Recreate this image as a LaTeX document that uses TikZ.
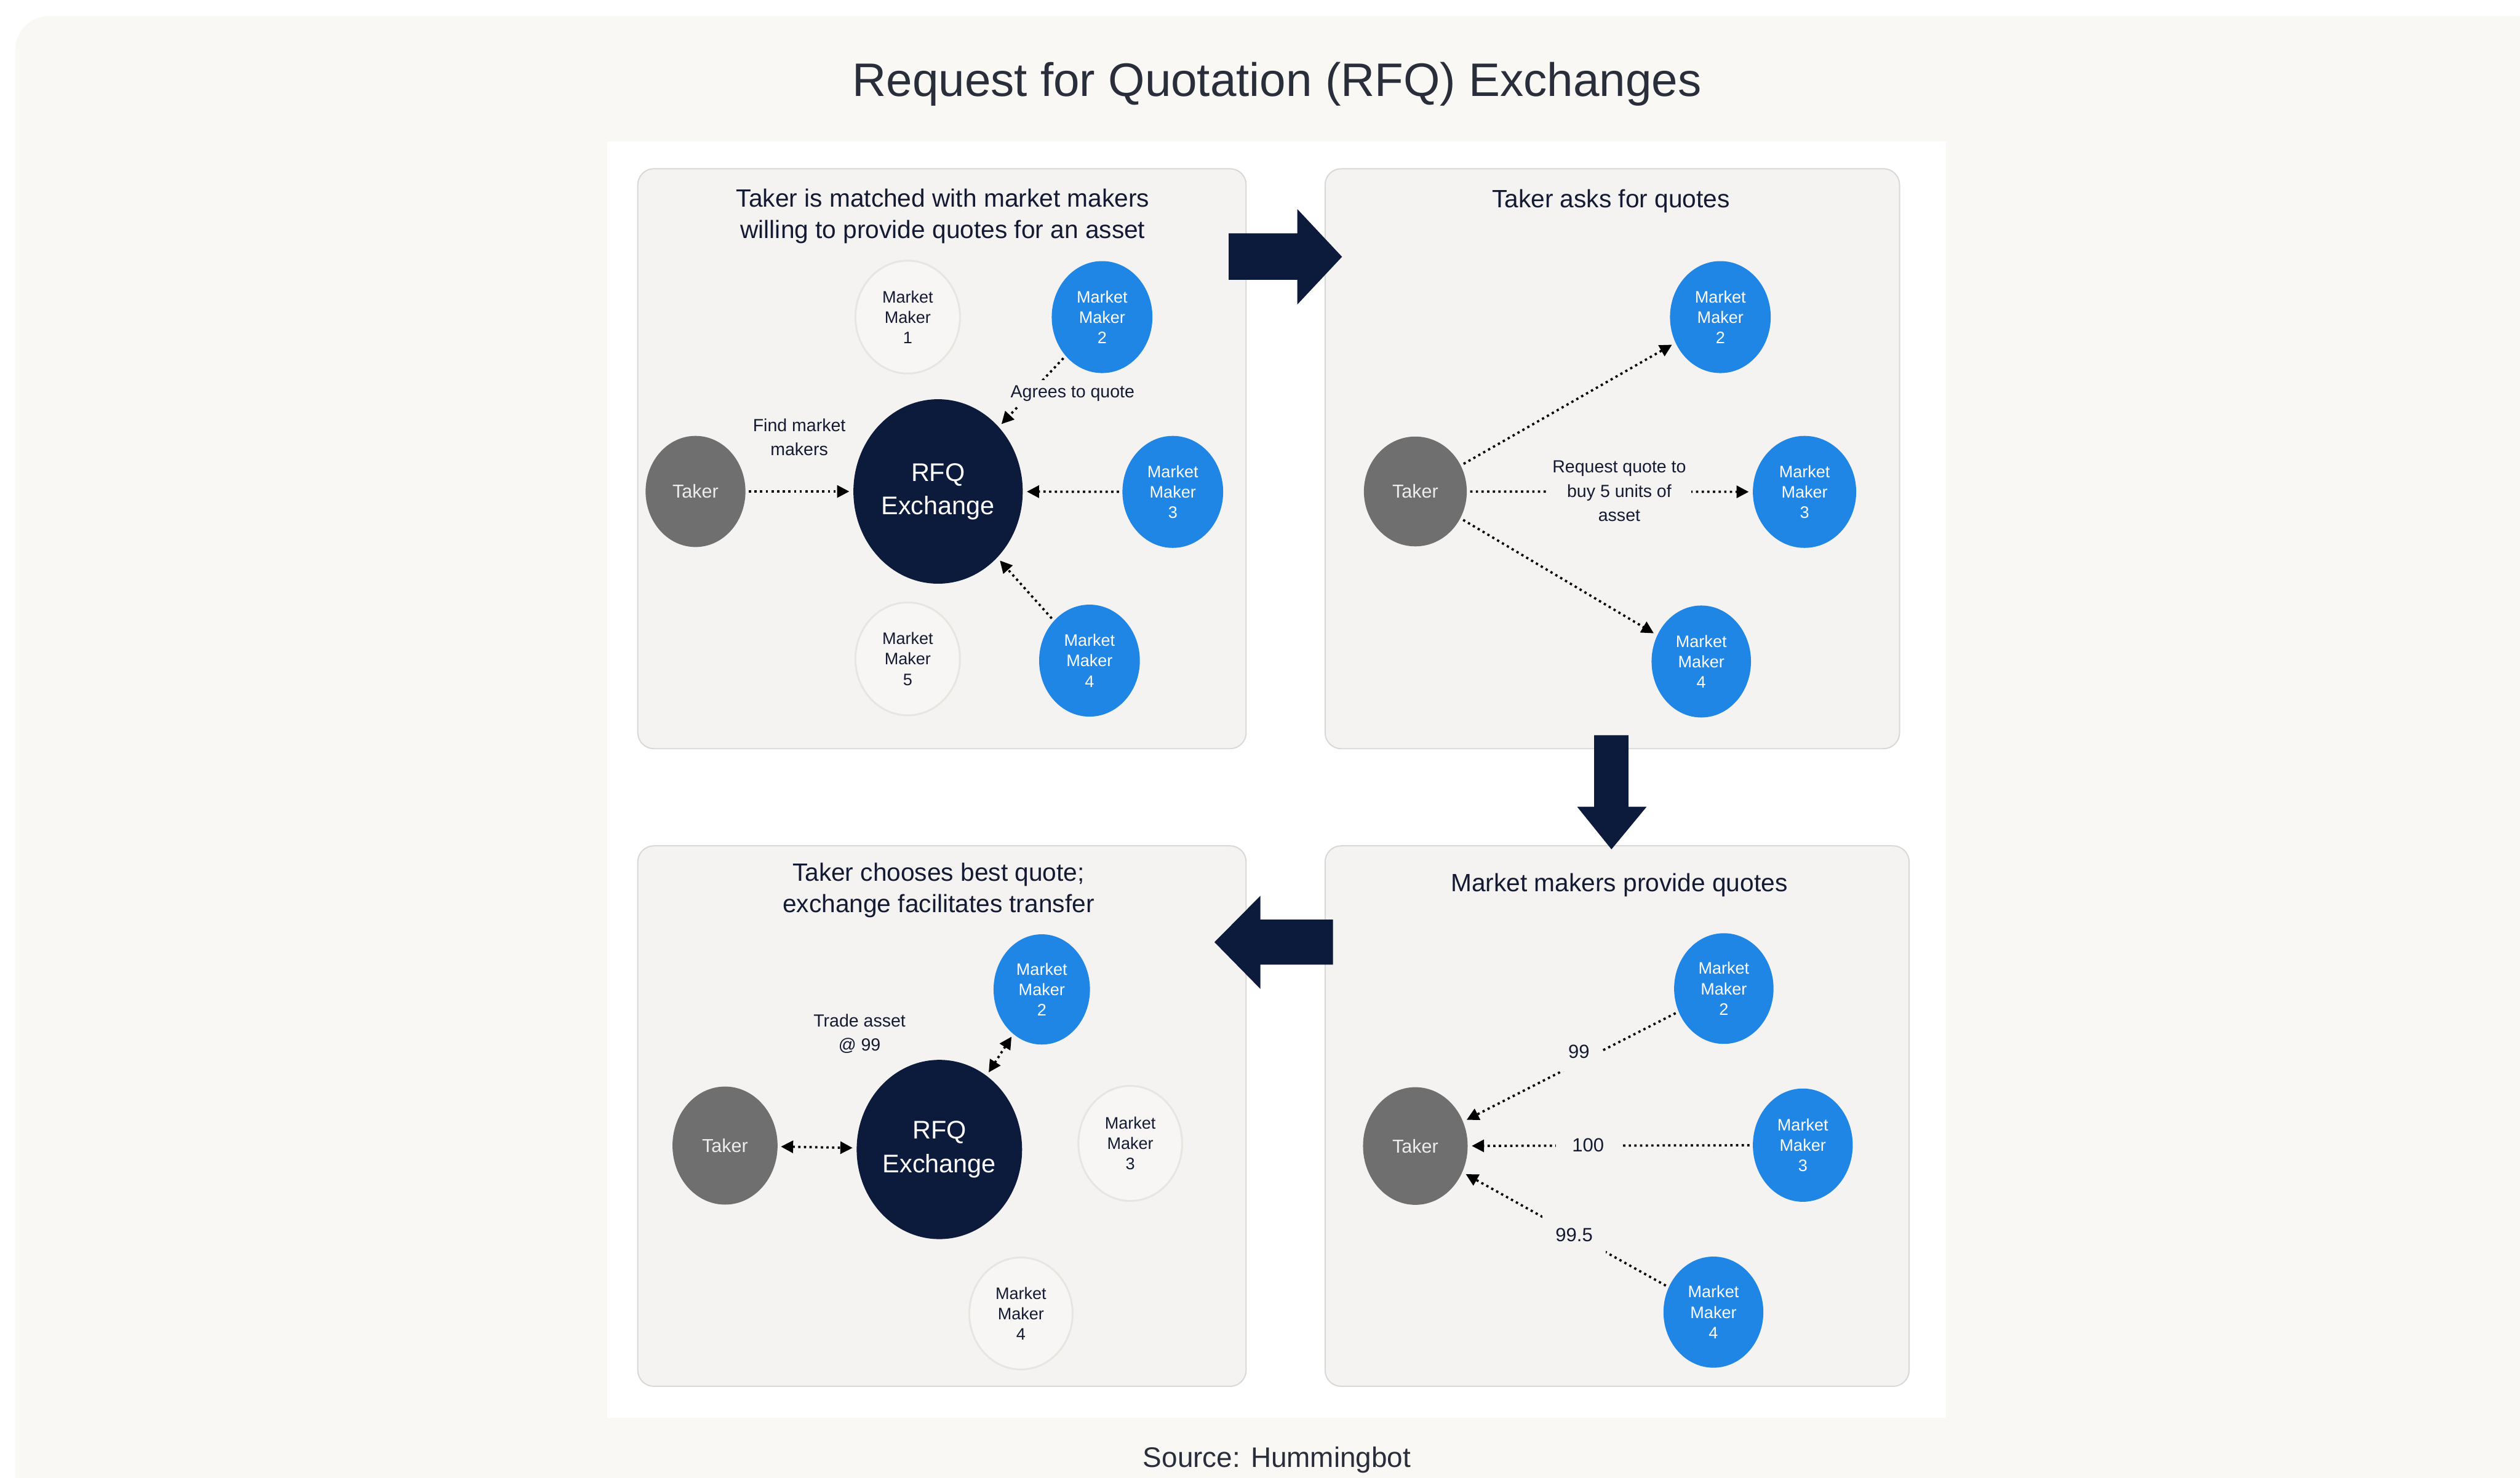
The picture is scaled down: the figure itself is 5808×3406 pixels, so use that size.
\documentclass[tikz,border=0pt]{standalone}
\usepackage{fontspec}
\setmainfont{Liberation Sans}
\usepackage{xcolor}
\definecolor{frameFill}{HTML}{F9F8F5}
\definecolor{panelFill}{HTML}{F4F3F1}
\definecolor{panelRule}{HTML}{D9D8D6}
\definecolor{colorNavy}{HTML}{0C1A3C}
\definecolor{colorMaker}{HTML}{1F86E6}
\definecolor{colorTaker}{HTML}{6F6F6F}
\definecolor{colorIdle}{HTML}{F7F6F4}
\definecolor{colorIdleRing}{HTML}{E8E5E0}
\definecolor{colorInk}{HTML}{141A32}
\definecolor{colorHead}{HTML}{2A2E3B}
\usepackage{tikz}
\usetikzlibrary{arrows.meta, shapes.geometric}

\newcommand{\titleFont}{\fontsize{30.8pt}{36pt}\selectfont}
\newcommand{\sourceFont}{\fontsize{18.5pt}{22pt}\selectfont}
\newcommand{\headFont}{\fontsize{16.4pt}{20.5pt}\selectfont}
\newcommand{\mmFont}{\fontsize{10.9pt}{13.4pt}\selectfont}
\newcommand{\takerFont}{\fontsize{12.3pt}{14pt}\selectfont}
\newcommand{\rfqFont}{\fontsize{16.7pt}{21.9pt}\selectfont}
\newcommand{\tagFont}{\fontsize{11.5pt}{16pt}\selectfont}
\newcommand{\numFont}{\fontsize{12.5pt}{15pt}\selectfont}

\tikzset{
  panel/.style={draw=panelRule, fill=panelFill, line width=0.8pt, rounded corners=0.37cm},
  bigarrow/.style={fill=colorNavy},
  maker/.style={ellipse, fill=colorMaker, text=white, inner sep=0pt, align=center,
    minimum width=2.32cm, minimum height=2.58cm, font=\mmFont},
  idle/.style={maker, fill=colorIdle, draw=colorIdleRing, line width=1.2pt, text=colorInk,
    minimum width=2.41cm, minimum height=2.6cm},
  taker/.style={ellipse, fill=colorTaker, text=white!93!black, inner sep=0pt,
    minimum width=2.3cm, minimum height=2.56cm, font=\takerFont},
  exch/.style={ellipse, fill=colorNavy, text=white, inner sep=0pt, align=center,
    minimum width=3.9cm, minimum height=4.25cm, font=\rfqFont},
  quote/.style={line width=1.5pt, dash pattern=on 1.5pt off 2.2pt, shorten >=2.5pt, shorten <=2pt},
  heading/.style={text=colorInk, align=center, font=\headFont},
  tag/.style={fill=panelFill, text=colorInk, align=center, inner sep=0.12cm, font=\tagFont},
  num/.style={tag, inner sep=0.3cm, font=\numFont},
}

\begin{document}
\begin{tikzpicture}[x=0.01cm, y=-0.01cm, >={Triangle[length=8pt, width=8pt]}]
\useasboundingbox (0,0) rectangle (5808,3406);
\fill[white] (0,0) rectangle (5808,3406);
\fill[frameFill, rounded corners=0.78cm] (35,37) rectangle (5880,3520);
\fill[white] (1400,326) rectangle (4485,3268);

% the four panels
\draw[panel] (1470,389) rectangle (2872,1726);
\draw[panel] (3054,389) rectangle (4378,1726);
\draw[panel] (1470,1950) rectangle (2872,3196);
\draw[panel] (3054,1950) rectangle (4400,3196);

% step arrows
\fill[bigarrow] (2832,538) -- (2990,538) -- (2990,482) -- (3093,592) -- (2990,702) -- (2990,645) -- (2832,645) -- cycle;
\fill[bigarrow] (3674,1695) -- (3753,1695) -- (3753,1860) -- (3795,1860) -- (3714,1958) -- (3635,1860) -- (3674,1860) -- cycle;
\fill[bigarrow] (3072,2120) -- (2905,2120) -- (2905,2065) -- (2799,2172) -- (2905,2280) -- (2905,2224) -- (3072,2224) -- cycle;

\node[anchor=base, text=colorHead, font=\titleFont] (title) at (2943,222) {Request for Quotation (RFQ) Exchanges};
\node[anchor=base, text=colorHead, font=\sourceFont] (source) at (2943,3382) {Source: Hummingbot};

% panel 1
\node[heading] (headA) at (2173,498) {Taker is matched with market makers\\willing to provide quotes for an asset};
\node[taker] (takerA) at (1603,1133) {Taker};
\node[exch] (rfqA) at (2162,1133) {RFQ\\Exchange};
\node[idle] (mmA1) at (2092,731) {Market\\Maker\\1};
\node[maker] (mmA2) at (2540,731) {Market\\Maker\\2};
\node[maker] (mmA3) at (2703,1134) {Market\\Maker\\3};
\node[maker] (mmA4) at (2511,1523) {Market\\Maker\\4};
\node[idle] (mmA5) at (2092,1519) {Market\\Maker\\5};
\draw [->, quote] (takerA) -- (rfqA);
\draw [->, quote] (mmA2) -- (rfqA);
\draw [->, quote] (mmA3) -- (rfqA);
\draw [->, quote] (mmA4) -- (rfqA);
\node[tag, fill=none] (noteA1) at (1842,1008) {Find market\\makers};
\node[tag] (noteA2) at (2472,907) {Agrees to quote};

% panel 2
\node[heading] (headB) at (3713,464) {Taker asks for quotes};
\node[taker, minimum width=2.37cm, minimum height=2.53cm] (takerB) at (3262,1133) {Taker};
\node[maker] (mmB2) at (3965,731) {Market\\Maker\\2};
\node[maker, minimum width=2.38cm] (mmB3) at (4159,1134) {Market\\Maker\\3};
\node[maker, minimum width=2.29cm] (mmB4) at (3921,1525) {Market\\Maker\\4};
\draw [->, quote] (takerB) -- (mmB2);
\draw [->, quote] (takerB) -- (mmB3);
\draw [->, quote] (takerB) -- (mmB4);
\node[tag] (noteB) at (3732,1132) {Request quote to\\buy 5 units of\\asset};

% panel 3
\node[heading] (headC) at (2163,2053) {Taker chooses best quote;\\exchange facilitates transfer};
\node[taker, minimum width=2.42cm, minimum height=2.72cm] (takerC) at (1671,2641) {Taker};
\node[exch, minimum width=3.81cm, minimum height=4.13cm] (rfqC) at (2165,2650) {RFQ\\Exchange};
\node[maker, minimum width=2.22cm, minimum height=2.54cm] (mmC2) at (2401,2281) {Market\\Maker\\2};
\node[idle, minimum width=2.39cm, minimum height=2.65cm] (mmC3) at (2605,2636) {Market\\Maker\\3};
\node[idle, minimum width=2.38cm, minimum height=2.58cm] (mmC4) at (2353,3028) {Market\\Maker\\4};
\draw [<->, quote] (takerC) -- (rfqC);
\draw [<->, quote] (mmC2) -- (rfqC);
\node[tag, fill=none] (noteC) at (1981,2383) {Trade asset\\@ 99};

% panel 4
\node[heading] (headD) at (3732,2040) {Market makers provide quotes};
\node[taker, minimum width=2.41cm, minimum height=2.71cm] (takerD) at (3262,2642) {Taker};
\node[maker, minimum width=2.29cm, minimum height=2.55cm] (mmD2) at (3973,2279) {Market\\Maker\\2};
\node[maker, minimum width=2.3cm, minimum height=2.61cm] (mmD3) at (4155,2640) {Market\\Maker\\3};
\node[maker, minimum width=2.3cm, minimum height=2.56cm] (mmD4) at (3949,3025) {Market\\Maker\\4};
\draw [->, quote] (mmD2) -- (takerD);
\draw [->, quote] (mmD3) -- (takerD);
\draw [->, quote] (mmD4) -- (takerD);
\node[num] (noteD2) at (3639,2425) {99};
\node[num, inner xsep=0.38cm] (noteD3) at (3660,2640) {100};
\node[num] (noteD4) at (3628,2847) {99.5};
\end{tikzpicture}
\end{document}
